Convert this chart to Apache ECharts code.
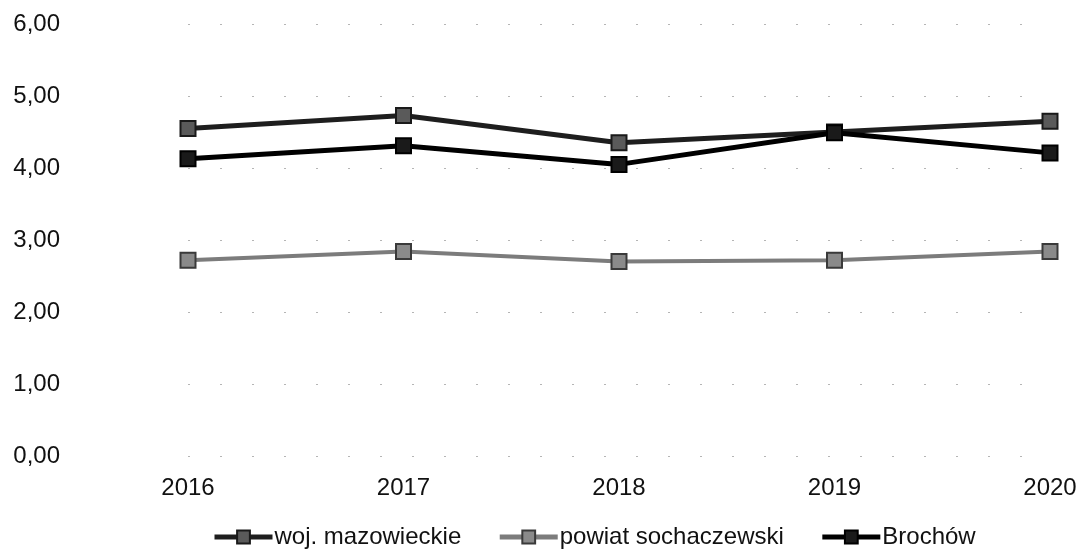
<!DOCTYPE html>
<html>
<head>
<meta charset="utf-8">
<script src="https://cdn.jsdelivr.net/npm/echarts@6/dist/echarts.min.js"></script>
<style>
  html, body { margin: 0; padding: 0; background: #fff; }
  #chart { width: 1083px; height: 550px; }
</style>
</head>
<body>
<div id="chart"></div>
<script>
// Years on the category axis
const years = ['2016', '2017', '2018', '2019', '2020'];

// Series values
const mazowieckie = [4.55, 4.73, 4.35, 4.50, 4.65];
const sochaczewski = [2.72, 2.84, 2.70, 2.72, 2.84];
const brochow = [4.13, 4.31, 4.05, 4.49, 4.21];

// Value axis range
const yMin = 0;
const yMax = 6;
const yStep = 1;

const FONT = '"Liberation Sans", Arial, sans-serif';

const chart = echarts.init(document.getElementById('chart'), null, { renderer: 'canvas' });

function lineSeries(name, data, lineColor, markerFill, markerBorder, width) {
  return {
    name: name,
    type: 'line',
    data: data,
    symbol: 'rect',
    symbolSize: 15,
    showAllSymbol: true,
    lineStyle: { color: lineColor, width: width },
    itemStyle: { color: markerFill, borderColor: markerBorder, borderWidth: 2 },
    emphasis: { disabled: true },
    animation: false
  };
}

chart.setOption({
  backgroundColor: '#ffffff',
  animation: false,
  grid: { left: 188, right: 33, top: 24, bottom: 94, containLabel: false },
  legend: {
    left: 207,
    top: 520,
    itemWidth: 58,
    itemHeight: 16,
    itemGap: 36,
    padding: 5,
    lineStyle: { width: 5 },
    textStyle: { fontFamily: FONT, fontSize: 24, color: '#111', padding: [0, 0, 0, -3] },
    data: ['woj. mazowieckie', 'powiat sochaczewski', 'Brochów']
  },
  xAxis: {
    type: 'category',
    data: years,
    boundaryGap: false,
    axisLine: { show: false },
    axisTick: { show: false },
    axisLabel: { fontFamily: FONT, fontSize: 24, color: '#111', margin: 20 },
    splitLine: { show: false }
  },
  yAxis: {
    type: 'value',
    min: yMin,
    max: yMax,
    interval: yStep,
    axisLine: { show: false },
    axisTick: { show: false },
    axisLabel: {
      fontFamily: FONT,
      fontSize: 24,
      color: '#111',
      margin: 128,
      formatter: v => v.toFixed(2).replace('.', ',')
    },
    splitLine: { show: true, lineStyle: { color: '#b5b5b5', width: 1, type: [2, 30] } }
  },
  series: [
    lineSeries('woj. mazowieckie', mazowieckie, '#1e1e1e', '#5a5a5a', '#1a1a1a', 5),
    lineSeries('powiat sochaczewski', sochaczewski, '#7c7c7c', '#8a8a8a', '#3a3a3a', 4),
    lineSeries('Brochów', brochow, '#000000', '#1a1a1a', '#000000', 5)
  ]
});
</script>
</body>
</html>
